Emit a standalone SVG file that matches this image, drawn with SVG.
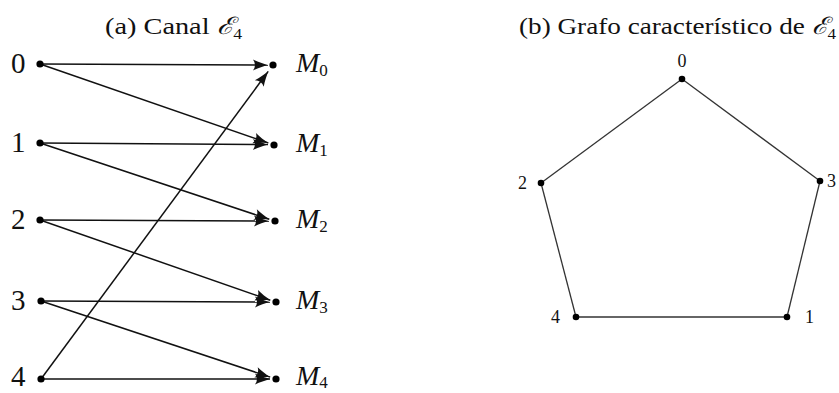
<svg xmlns="http://www.w3.org/2000/svg" width="839" height="393" viewBox="0 0 839 393">
<style>
text{font-family:"Liberation Serif","DejaVu Serif",serif;fill:#111}
.t{font-size:24px}
.n{font-size:29px}
.m{font-size:28px;font-style:italic}
.s{font-size:17px;font-style:normal}
.g{font-size:18px}
.e{stroke:#111;stroke-width:1.5;fill:none}
.p{stroke:#333;stroke-width:1.3;fill:none}
circle{fill:#000}
</style>
<defs>
<marker id="ah" markerUnits="userSpaceOnUse" markerWidth="20" markerHeight="14" viewBox="-16 -7 18 14" refX="0" refY="0" orient="auto">
<path d="M0,0 C-5,-1.5 -10,-3 -15,-5.5 Q-11,0 -15,5.5 C-10,3 -5,1.5 0,0 Z" fill="#111"/>
</marker>
</defs>
<text class="t" x="105" y="34" textLength="137" lengthAdjust="spacingAndGlyphs">(a) Canal <tspan font-style="italic">ℰ</tspan><tspan font-size="15" dy="5">4</tspan></text>
<text class="t" x="519" y="34" textLength="317" lengthAdjust="spacingAndGlyphs">(b) Grafo característico de <tspan font-style="italic">ℰ</tspan><tspan font-size="15" dy="5">4</tspan></text>
<g id="connectors">
<line class="e" x1="40" y1="64" x2="268" y2="65" marker-end="url(#ah)"/>
<line class="e" x1="40" y1="64" x2="268.3" y2="143" marker-end="url(#ah)"/>
<line class="e" x1="40" y1="143" x2="268" y2="144.5" marker-end="url(#ah)"/>
<line class="e" x1="40" y1="143" x2="269.3" y2="219.3" marker-end="url(#ah)"/>
<line class="e" x1="40" y1="220" x2="269" y2="221" marker-end="url(#ah)"/>
<line class="e" x1="40" y1="220" x2="270.3" y2="300.2" marker-end="url(#ah)"/>
<line class="e" x1="41" y1="301" x2="270" y2="302" marker-end="url(#ah)"/>
<line class="e" x1="41" y1="301" x2="270.2" y2="377.1" marker-end="url(#ah)"/>
<line class="e" x1="41" y1="379" x2="270" y2="379" marker-end="url(#ah)"/>
<line class="e" x1="41" y1="379" x2="268.2" y2="71.4" marker-end="url(#ah)"/>
<line class="p" x1="682" y1="79" x2="541" y2="183"/>
<line class="p" x1="682" y1="79" x2="820" y2="181"/>
<line class="p" x1="541" y1="183" x2="576" y2="317"/>
<line class="p" x1="820" y1="181" x2="787" y2="317"/>
<line class="p" x1="576" y1="317" x2="787" y2="317"/>
</g>
<g id="a0"><circle cx="40" cy="64" r="3.6"/><text class="n" x="11" y="73">0</text></g>
<g id="a1"><circle cx="40" cy="143" r="3.6"/><text class="n" x="11" y="152">1</text></g>
<g id="a2"><circle cx="40" cy="220" r="3.6"/><text class="n" x="11" y="229">2</text></g>
<g id="a3"><circle cx="41" cy="301" r="3.6"/><text class="n" x="11" y="310">3</text></g>
<g id="a4"><circle cx="41" cy="379" r="3.6"/><text class="n" x="11" y="386">4</text></g>
<g id="M0"><circle cx="273" cy="65" r="3.6"/><text class="m" x="296" y="72">M<tspan class="s" dy="4">0</tspan></text></g>
<g id="M1"><circle cx="274" cy="145" r="3.6"/><text class="m" x="296" y="152">M<tspan class="s" dy="4">1</tspan></text></g>
<g id="M2"><circle cx="275" cy="221" r="3.6"/><text class="m" x="296" y="228">M<tspan class="s" dy="4">2</tspan></text></g>
<g id="M3"><circle cx="276" cy="302" r="3.6"/><text class="m" x="296" y="309">M<tspan class="s" dy="4">3</tspan></text></g>
<g id="M4"><circle cx="276" cy="379" r="3.6"/><text class="m" x="296" y="385">M<tspan class="s" dy="3">4</tspan></text></g>
<g id="g0"><circle cx="682" cy="79" r="3.3"/><text class="g" x="682" y="67" text-anchor="middle">0</text></g>
<g id="g1"><circle cx="787" cy="317" r="3.3"/><text class="g" x="805" y="323">1</text></g>
<g id="g2"><circle cx="541" cy="183" r="3.3"/><text class="g" x="518" y="189">2</text></g>
<g id="g3"><circle cx="820" cy="181" r="3.3"/><text class="g" x="827" y="187">3</text></g>
<g id="g4"><circle cx="576" cy="317" r="3.3"/><text class="g" x="551" y="323">4</text></g>
</svg>
